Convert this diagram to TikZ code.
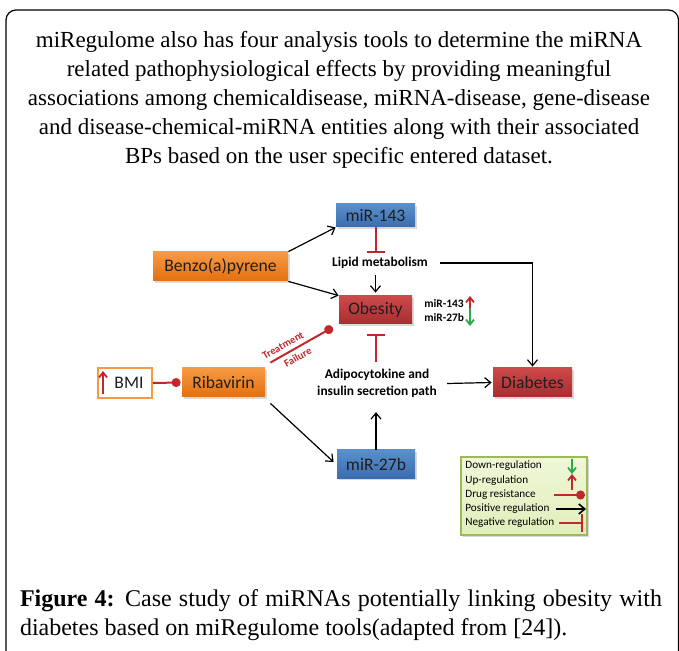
\documentclass[tikz,border=0pt]{standalone}
\usepackage{fontspec}
\setmainfont{Liberation Serif}
\newfontfamily\calibri{Carlito}
\usetikzlibrary{arrows.meta,calc,shadows}

\definecolor{mirtop}{HTML}{5B8FCB}
\definecolor{mirbot}{HTML}{3A6DAE}
\definecolor{drugtop}{HTML}{F89A45}
\definecolor{drugbot}{HTML}{E2700F}
\definecolor{distop}{HTML}{CC4A4C}
\definecolor{disbot}{HTML}{A82D30}
\definecolor{inhred}{HTML}{C0282D}
\definecolor{downgreen}{HTML}{2EA84F}
\definecolor{lgfill}{HTML}{E8F4C6}
\definecolor{lgedge}{HTML}{9BBB59}
\definecolor{boxtext}{HTML}{1E1E1E}

\tikzset{
  shadowed/.style={drop shadow={opacity=0.3,shadow xshift=0.8pt,shadow yshift=-0.8pt}},
  mirbox/.style={shadowed, shade, top color=mirtop, bottom color=mirbot, text=boxtext, inner sep=1pt,
    font=\calibri\fontsize{8.8}{10}\selectfont},
  drugbox/.style={mirbox, top color=drugtop, bottom color=drugbot},
  disbox/.style={mirbox, top color=distop, bottom color=disbot},
  proc/.style={font=\calibri\bfseries\fontsize{6.7}{8.5}\selectfont, align=center, inner sep=1pt},
  lgtext/.style={font=\calibri\fontsize{5.6}{7}\selectfont, inner sep=0pt, anchor=west},
  posreg/.style={-{Straight Barb[length=3pt,width=5pt]}, line width=0.6pt},
  negreg/.style={-{Bar[width=9pt,line width=1pt]}, inhred, line width=1pt},
  drugres/.style={-{Circle[length=4.5pt]}, inhred, line width=1pt},
  upreg/.style={-{Straight Barb[length=2.5pt,width=4pt]}, inhred, line width=0.9pt},
  downreg/.style={-{Straight Barb[length=2.5pt,width=4pt]}, downgreen, line width=0.9pt}
}

\begin{document}
\begin{tikzpicture}[x=0.5pt,y=-0.5pt]
\useasboundingbox (0,0) rectangle (679,651);
\clip (0,0) rectangle (679,651);

% frame and text around the figure
\draw[line width=0.6pt, rounded corners=5pt] (6,10) rectangle (678.5,720);
\node[font=\rmfamily\fontsize{11.5}{14.5}\selectfont, align=center] (intro) at (339,100)
  {miRegulome also has four analysis tools to determine the miRNA\\
   related pathophysiological effects by providing meaningful\\
   associations among chemicaldisease, miRNA-disease, gene-disease\\
   and disease-chemical-miRNA entities along with their associated\\
   BPs based on the user specific entered dataset.};
\node[font=\rmfamily\fontsize{12}{14.5}\selectfont, text width=321pt, align=justify, inner sep=0pt] (caption) at (341,615)
  {\textbf{Figure 4:} Case study of miRNAs potentially linking obesity with diabetes based on miRegulome tools(adapted from [24]).};

% boxes
\node[mirbox, minimum width=39.5pt, minimum height=11.5pt] (m143) at (375.5,215.5) {miR-143};
\node[drugbox, minimum width=67.5pt, minimum height=14.5pt] (benzo) at (220.5,266.5) {Benzo(a)pyrene};
\node[disbox, minimum width=36.5pt, minimum height=14pt] (obes) at (375.5,310) {Obesity};
\node[drugbox, minimum width=41.5pt, minimum height=14.5pt] (rib) at (223.5,382.5) {Ribavirin};
\node[disbox, minimum width=39.5pt, minimum height=14.5pt] (diab) at (532.5,382.5) {Diabetes};
\node[mirbox, minimum width=39pt, minimum height=14pt] (m27) at (376,464) {miR-27b};
\node[draw=drugtop, line width=0.8pt, fill=white, minimum width=27pt, minimum height=15pt,
      font=\calibri\fontsize{8.8}{10}\selectfont, text=boxtext, inner sep=0pt] (bmi) at (125,383) {\hspace{4pt}BMI};
\draw[upreg] (103,394) -- (103,371);

% pathways
\node[proc] (lipid) at (380,263) {Lipid metabolism};
\node[proc] (adipo) at (377,383.5) {Adipocytokine and\\insulin secretion path};

% miRNA levels in obesity
\node[proc, font=\calibri\bfseries\fontsize{5.7}{7}\selectfont, anchor=west] (up143) at (422,304) {miR-143};
\node[proc, font=\calibri\bfseries\fontsize{5.7}{7}\selectfont, anchor=west] (down27) at (422,318) {miR-27b};
\draw[upreg] (470,313) -- (470,296);
\draw[downreg] (470,308) -- (470,326);

% connectors
\draw[posreg] (benzo.north east) -- (m143.south west);
\draw[posreg] (benzo.south east) -- (obes.north west);
\draw[negreg] (m143.south) -- ($(m143.south)+(0,26)$);
\draw[posreg] ($(lipid.south -| obes.north)+(0,4)$) -- ($(obes.north)+(0,-3)$);
\draw[posreg] ($(lipid.east)+(10,0)$) -| ($(diab.north)+(0,-1)$);
\draw[negreg] ($(adipo.north -| obes.south)+(0,-5)$) -- ($(obes.south)+(0,10)$);
\draw[posreg] ($(adipo.east)+(8,0)$) -- ($(diab.west)+(-1,0)$);
\draw[posreg] (m27.north) -- ($(adipo.south -| m27.north)+(0,12)$);
\draw[posreg] ($(rib.south east)+(5,6)$) -- ($(m27.west)+(-3,-2)$);
\draw[drugres] (bmi.east) -- ($(rib.west)+(-1,0)$);
\draw[drugres] ($(rib.north east)+(5,-5)$) -- ($(obes.south west)+(-6,3)$)
  node[pos=0.27, sloped, above, inner sep=2pt, text=inhred, font=\calibri\bfseries\fontsize{5.3}{6}\selectfont] (treat) {Treatment}
  node[pos=0.37, sloped, below, inner sep=2pt, text=inhred, font=\calibri\bfseries\fontsize{5.3}{6}\selectfont] (fail) {Failure};

% legend
\node[shadowed, draw=lgedge, line width=0.6pt, shade, top color=lgfill!70!white, bottom color=lgfill!90!lgedge,
      minimum width=63pt, minimum height=39pt, inner sep=0pt] (legend) at (524,496) {};
\node[lgtext] (lgdown) at (465,466) {Down-regulation};
\node[lgtext] (lgup) at (465,481) {Up-regulation};
\node[lgtext] (lgdrug) at (465,495) {Drug resistance};
\node[lgtext] (lgpos) at (465,509) {Positive regulation};
\node[lgtext] (lgneg) at (465,523) {Negative regulation};
\draw[downreg] (572,459) -- (572,474);
\draw[upreg] (572,490) -- (572,474);
\draw[drugres] (554,495) -- (585,495);
\draw[posreg, line width=0.8pt] (556,509) -- (586,509);
\draw[negreg] (559,523) -- (583,523);
\end{tikzpicture}
\end{document}
